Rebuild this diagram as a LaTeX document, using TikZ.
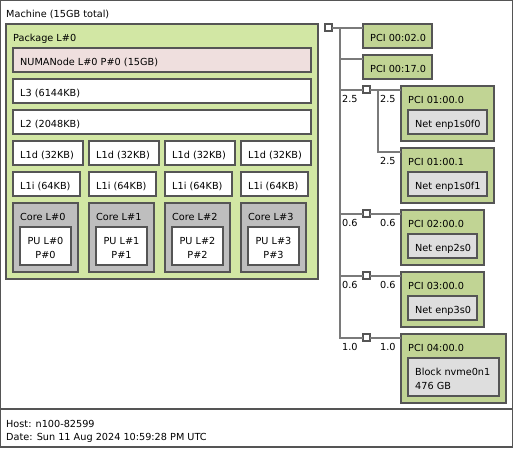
\documentclass[tikz,border=0pt]{standalone}
\usepackage{fontspec}
\setmainfont{DejaVu Sans}
\definecolor{pkgcol}{HTML}{D2E7A4}
\definecolor{numacol}{HTML}{EFDFDE}
\definecolor{corecol}{HTML}{BEBEBE}
\definecolor{pcicol}{HTML}{C1D494}
\definecolor{osdevcol}{HTML}{DEDEDE}
\definecolor{bordercol}{HTML}{555555}
\definecolor{linkcol}{HTML}{7A7A7A}

\begin{document}
\begin{tikzpicture}[x=1pt,y=-1pt,
  box/.style={draw=bordercol,line width=1.5pt,inner sep=0pt,outer sep=0pt,anchor=north west},
  lbl/.style={inner sep=0pt,anchor=base west,font=\fontsize{9.7}{14}\selectfont},
  link/.style={draw=linkcol,line width=2pt}]
\useasboundingbox (0,0) rectangle (513,448);
% machine and footer
\node[box,fill=white,minimum width=512pt,minimum height=408.5pt] (machine) at (0.5,0.5) {};
\node[lbl] (machinet) at (6,17) {Machine (15GB total)};
\node[box,fill=white,minimum width=512pt,minimum height=38pt] (footer) at (0.5,409) {};
\node[lbl] (host) at (6,427) {Host: n100-82599};
\node[lbl] (date) at (6,440.5) {Date: Sun 11 Aug 2024 10:59:28 PM UTC};
% package
\node[box,fill=pkgcol,minimum width=312pt,minimum height=255pt] (pkg) at (6,24) {};
\node[lbl] (pkgt) at (13,41) {Package L\#0};
\node[box,fill=numacol,minimum width=298pt,minimum height=24pt] (numa) at (13,48) {};
\node[lbl] (numat) at (20,65) {NUMANode L\#0 P\#0 (15GB)};
\node[box,fill=white,minimum width=298pt,minimum height=24pt] (lthree) at (13,79) {};
\node[lbl] (lthreet) at (20,96) {L3 (6144KB)};
\node[box,fill=white,minimum width=298pt,minimum height=24pt] (ltwo) at (13,110) {};
\node[lbl] (ltwot) at (20,127) {L2 (2048KB)};
\foreach \i in {0,...,3}{
  \node[box,fill=white,minimum width=70pt,minimum height=24pt] (lid\i) at ({13+76*\i},141) {};
  \node[lbl] (lidt\i) at ({20+76*\i},158) {L1d (32KB)};
  \node[box,fill=white,minimum width=67pt,minimum height=24pt] (lii\i) at ({13+76*\i},172) {};
  \node[lbl] (liit\i) at ({20+76*\i},189) {L1i (64KB)};
  \node[box,fill=corecol,minimum width=65pt,minimum height=69pt] (core\i) at ({13+76*\i},203) {};
  \node[lbl] (coret\i) at ({20+76*\i},220) {Core L\#\i};
  \node[box,fill=white,minimum width=51pt,minimum height=38pt] (pu\i) at ({20+76*\i},227) {};
  \node[lbl,anchor=base] (pua\i) at ({45.5+76*\i},244) {PU L\#\i};
  \node[lbl,anchor=base] (pub\i) at ({45.5+76*\i},258) {P\#\i};
}
% pci tree
\node[box,fill=white,minimum size=7pt] (hb) at (325,24) {};
\node[box,fill=pcicol,minimum width=69pt,minimum height=24pt] (pci02) at (363,24) {};
\node[lbl] (pci02t) at (370,41) {PCI 00:02.0};
\node[box,fill=pcicol,minimum width=69pt,minimum height=24pt] (pci17) at (363,55) {};
\node[lbl] (pci17t) at (370,72) {PCI 00:17.0};

\node[box,fill=white,minimum size=7pt] (sqa) at (363,86) {};
\node[box,fill=pcicol,minimum width=93pt,minimum height=55pt] (pcia) at (401,86) {};
\node[lbl] (pciat) at (408,103) {PCI 01:00.0};
\node[box,fill=osdevcol,minimum width=79pt,minimum height=24pt] (neta) at (408,110) {};
\node[lbl] (netat) at (415,127) {Net enp1s0f0};
\node[box,fill=pcicol,minimum width=93pt,minimum height=55pt] (pcib) at (401,148) {};
\node[lbl] (pcibt) at (408,165) {PCI 01:00.1};
\node[box,fill=osdevcol,minimum width=79pt,minimum height=24pt] (netb) at (408,172) {};
\node[lbl] (netbt) at (415,189) {Net enp1s0f1};

\node[box,fill=white,minimum size=7pt] (sqc) at (363,210) {};
\node[box,fill=pcicol,minimum width=83pt,minimum height=55pt] (pcic) at (401,210) {};
\node[lbl] (pcict) at (408,227) {PCI 02:00.0};
\node[box,fill=osdevcol,minimum width=69pt,minimum height=24pt] (netc) at (408,234) {};
\node[lbl] (netct) at (415,251) {Net enp2s0};

\node[box,fill=white,minimum size=7pt] (sqd) at (363,272) {};
\node[box,fill=pcicol,minimum width=83pt,minimum height=55pt] (pcid) at (401,272) {};
\node[lbl] (pcidt) at (408,289) {PCI 03:00.0};
\node[box,fill=osdevcol,minimum width=69pt,minimum height=24pt] (netd) at (408,296) {};
\node[lbl] (netdt) at (415,313) {Net enp3s0};

\node[box,fill=white,minimum size=7pt] (sqe) at (363,334) {};
\node[box,fill=pcicol,minimum width=105pt,minimum height=69pt] (pcie) at (401,334) {};
\node[lbl] (pciet) at (408,351) {PCI 04:00.0};
\node[box,fill=osdevcol,minimum width=91pt,minimum height=38pt] (blk) at (408,358) {};
\node[lbl] (blkt) at (415,375) {Block nvme0n1};
\node[lbl] (blks) at (415,389) {476 GB};

% links
\coordinate (bus) at (339.5,0);
\coordinate (busa) at (377.5,0);
\coordinate (in17) at ([yshift=-3.5pt]pci17.north west);
\coordinate (ina) at ([yshift=-3.5pt]pcia.north west);
\coordinate (inb) at ([yshift=-3.5pt]pcib.north west);
\coordinate (inc) at ([yshift=-3.5pt]pcic.north west);
\coordinate (ind) at ([yshift=-3.5pt]pcid.north west);
\coordinate (ine) at ([yshift=-3.5pt]pcie.north west);
\draw[link] (hb.east) -- (hb.east -| pci02.west);
\draw[link] (hb.east -| bus) |- (sqe.west);
\draw[link] (bus |- in17) -- (in17);
\draw[link] (bus |- sqa.west) -- (sqa.west);
\draw[link] (bus |- sqc.west) -- (sqc.west);
\draw[link] (bus |- sqd.west) -- (sqd.west);
\draw[link] (sqa.east) -- (ina);
\draw[link] (sqa.east -| busa) |- (inb);
\draw[link] (sqc.east) -- (inc);
\draw[link] (sqd.east) -- (ind);
\draw[link] (sqe.east) -- (ine);
% link speeds
\node[lbl] (spa) at (342,102) {2.5};
\node[lbl] (spaa) at (380,102) {2.5};
\node[lbl] (spab) at (380,164) {2.5};
\node[lbl] (spc) at (342,226) {0.6};
\node[lbl] (spcc) at (380,226) {0.6};
\node[lbl] (spd) at (342,288) {0.6};
\node[lbl] (spdd) at (380,288) {0.6};
\node[lbl] (spe) at (342,350) {1.0};
\node[lbl] (spee) at (380,350) {1.0};
\end{tikzpicture}
\end{document}
